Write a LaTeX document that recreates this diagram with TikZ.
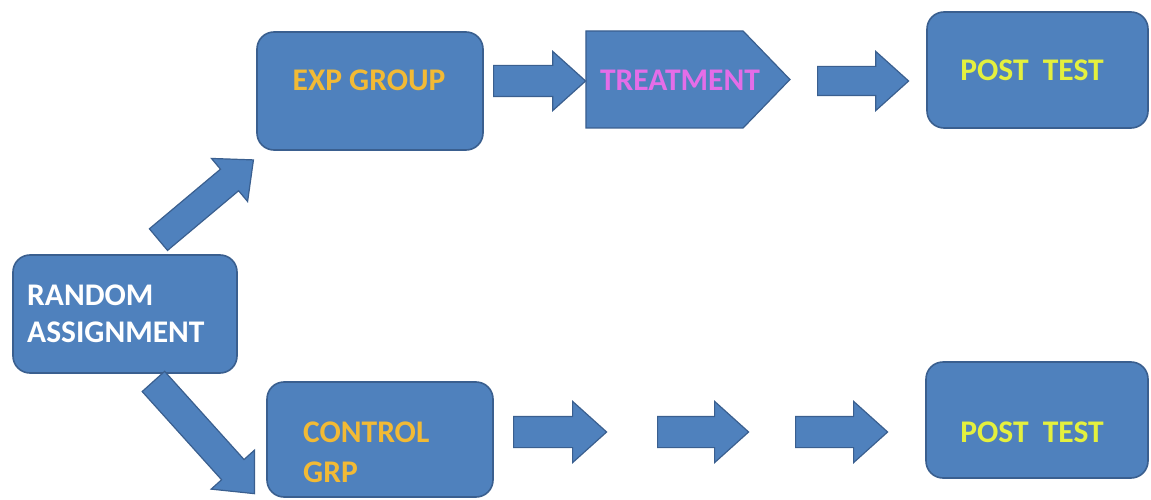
\documentclass[tikz,border=0pt]{standalone}
\usepackage{fontspec}
\setmainfont{Carlito}
\usetikzlibrary{shapes.arrows,shapes.symbols}
\definecolor{boxblue}{HTML}{4F81BD}
\definecolor{boxline}{HTML}{3A5F8F}
\definecolor{grptext}{HTML}{F2BA35}
\definecolor{posttext}{HTML}{E4F03E}
\definecolor{treattext}{HTML}{E46DE8}
\tikzset{
  stagebox/.style={draw=boxline, fill=boxblue, line width=1.6pt, rounded corners=17pt, inner sep=0pt},
  fatarrow/.style={single arrow, draw=boxline, fill=boxblue, line width=1.2pt, inner sep=0pt,
    text depth=0pt, single arrow tip angle=84, anchor=tail},
  lbl/.style={font=\bfseries\fontsize{31.5}{37}\selectfont, inner sep=0pt}
}
\begin{document}
\begin{tikzpicture}[x=1pt,y=-1pt]
  \useasboundingbox (0,0) rectangle (1151,500);
  \node[stagebox, minimum width=224pt, minimum height=118pt] (rand) at (125,314) {};
  \node[stagebox, minimum width=226pt, minimum height=118pt] (exp) at (370,91) {};
  \node[stagebox, minimum width=226pt, minimum height=115pt] (ctrl) at (380,439.5) {};
  \node[stagebox, minimum width=221pt, minimum height=116pt] (posta) at (1037.5,70) {};
  \node[stagebox, minimum width=222pt, minimum height=116pt] (postb) at (1037,420) {};
  \node[signal, signal to=east, signal pointer angle=92, draw=boxline, fill=boxblue, line width=1.2pt,
    minimum width=204pt, minimum height=97pt, inner sep=0pt] (treat) at (664.5,79.5) {};
  \node[fatarrow, minimum height=92pt, text height=30pt, single arrow head extend=14pt] (e1) at (493,81) {};
  \node[fatarrow, minimum height=91pt, text height=28pt, single arrow head extend=15pt] (e2) at (817,81) {};
  \node[fatarrow, minimum height=93pt, text height=30pt, single arrow head extend=15pt] (c1) at (513,432) {};
  \node[fatarrow, minimum height=91pt, text height=30pt, single arrow head extend=15pt] (c2) at (657,432) {};
  \node[fatarrow, minimum height=92pt, text height=30pt, single arrow head extend=15pt] (c3) at (795,432) {};
  \node[fatarrow, minimum height=124pt, text height=27pt, single arrow head extend=14pt, rotate=40] (up) at (158,240) {};
  \node[fatarrow, minimum height=151pt, text height=29pt, single arrow head extend=14pt, rotate=-48] (down) at (153,381) {};
  \node[lbl, text=white, align=left, anchor=west] (randtxt) at (27,314) {RANDOM\\ASSIGNMENT};
  \node[lbl, text=grptext] (exptxt) at (369,80) {EXP GROUP};
  \node[lbl, text=grptext, align=left, anchor=west] (ctrltxt) at (303,452) {CONTROL\\[3pt]GRP};
  \node[lbl, text=treattext] (treattxt) at (680,80) {TREATMENT};
  \node[lbl, text=posttext] (postatxt) at (1032,70) {POST~~TEST};
  \node[lbl, text=posttext] (postbtxt) at (1032,432) {POST~~TEST};
\end{tikzpicture}
\end{document}
